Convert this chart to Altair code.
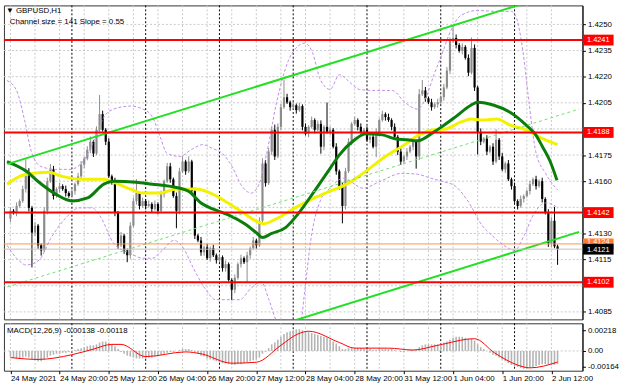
import altair as alt
import pandas as pd

# ---------------- data ----------------
first_open = 1.41385
closes = [
    1.41430, 1.41419, 1.41458, 1.41486, 1.41555, 1.41645, 1.41447, 1.41305, 1.41345, 1.41232,
    1.41203, 1.41430, 1.41600, 1.41668, 1.41515, 1.41555, 1.41572, 1.41555, 1.41532, 1.41515,
    1.41543, 1.41583, 1.41628, 1.41696, 1.41730, 1.41781, 1.41827, 1.41759, 1.41895, 1.41985,
    1.41895, 1.41827, 1.41628, 1.41600, 1.41419, 1.41232, 1.41288, 1.41203, 1.41175, 1.41345,
    1.41486, 1.41532, 1.41458, 1.41486, 1.41458, 1.41469, 1.41441, 1.41469, 1.41430, 1.41526,
    1.41600, 1.41685, 1.41611, 1.41515, 1.41430, 1.41657, 1.41713, 1.41657, 1.41713, 1.41543,
    1.41288, 1.41260, 1.41192, 1.41220, 1.41158, 1.41215, 1.41175, 1.41147, 1.41164, 1.41101,
    1.41124, 1.41033, 1.40977, 1.41045, 1.41124, 1.41158, 1.41135, 1.41175, 1.41215, 1.41260,
    1.41232, 1.41373, 1.41702, 1.41589, 1.41770, 1.41895, 1.41742, 1.41912, 1.42025, 1.42082,
    1.42053, 1.42025, 1.42036, 1.42008, 1.42031, 1.41912, 1.41872, 1.41912, 1.41951, 1.41895,
    1.41929, 1.41798, 1.41912, 1.41883, 1.41895, 1.41798, 1.41657, 1.41572, 1.41458, 1.41657,
    1.41827, 1.41929, 1.41951, 1.41912, 1.41883, 1.41895, 1.41838, 1.41855, 1.41798, 1.41883,
    1.41951, 1.41985, 1.41968, 1.41951, 1.41912, 1.41855, 1.41770, 1.41713, 1.41742, 1.41770,
    1.41798, 1.41827, 1.41742, 1.42099, 1.42121, 1.42076, 1.42053, 1.42025, 1.42042, 1.42053,
    1.42082, 1.42138, 1.42235, 1.42405, 1.42422, 1.42382, 1.42348, 1.42371, 1.42308, 1.42223,
    1.42365, 1.42138, 1.41883, 1.41827, 1.41844, 1.41770, 1.41798, 1.41713, 1.41838, 1.41742,
    1.41668, 1.41702, 1.41611, 1.41572, 1.41486, 1.41458, 1.41498, 1.41515, 1.41543, 1.41583,
    1.41611, 1.41572, 1.41600, 1.41498, 1.41419, 1.41243, 1.41373, 1.41226, 1.41210,
]
upper_wick_pips = [
    2, 1, 2, 1, 2, 8, 3, 1, 2, 1,
    1, 2, 2, 3, 2, 1, 2, 1, 2, 1,
    2, 1, 2, 2, 1, 2, 3, 1, 2, 11,
    2, 1, 2, 1, 2, 1, 2, 1, 1, 2,
    2, 8, 1, 2, 1, 2, 1, 2, 1, 2,
    1, 2, 2, 1, 2, 2, 3, 1, 3, 1,
    2, 1, 2, 1, 2, 1, 2, 1, 2, 1,
    2, 1, 1, 2, 1, 2, 1, 2, 1, 2,
    1, 2, 3, 2, 2, 2, 3, 2, 2, 10,
    2, 1, 2, 1, 2, 1, 2, 1, 2, 1,
    2, 2, 1, 14, 2, 1, 2, 1, 2, 2,
    2, 1, 2, 1, 2, 1, 2, 1, 2, 2,
    1, 2, 1, 2, 1, 2, 1, 2, 1, 2,
    1, 2, 1, 3, 6, 2, 1, 2, 1, 2,
    1, 2, 2, 2, 7, 2, 1, 2, 1, 2,
    6, 2, 1, 2, 1, 2, 1, 2, 6, 1,
    2, 1, 2, 1, 2, 1, 2, 1, 1, 2,
    1, 2, 1, 2, 1, 2, 2, 8, 1,
]
lower_wick_pips = [
    2, 1, 2, 1, 1, 2, 2, 20, 2, 2,
    3, 1, 2, 1, 2, 1, 2, 1, 2, 1,
    1, 2, 1, 2, 2, 1, 2, 2, 1, 2,
    1, 2, 1, 2, 2, 2, 1, 2, 4, 2,
    1, 2, 2, 1, 2, 1, 2, 1, 2, 1,
    2, 1, 2, 1, 10, 2, 1, 2, 1, 2,
    2, 1, 2, 2, 1, 2, 1, 2, 1, 2,
    2, 1, 6, 2, 1, 2, 1, 12, 2, 1,
    2, 1, 2, 2, 1, 2, 2, 1, 2, 1,
    1, 2, 1, 2, 1, 2, 1, 2, 1, 2,
    1, 4, 2, 1, 2, 1, 2, 2, 10, 2,
    1, 2, 1, 2, 1, 2, 1, 2, 1, 6,
    2, 1, 2, 1, 2, 1, 2, 2, 1, 2,
    1, 2, 7, 2, 1, 2, 1, 2, 1, 2,
    1, 2, 1, 2, 1, 2, 1, 2, 1, 2,
    1, 2, 13, 2, 1, 2, 1, 2, 1, 2,
    1, 2, 1, 2, 1, 2, 1, 2, 1, 2,
    1, 2, 1, 2, 1, 2, 2, 1, 9,
]

ma_green_bar = [-1.1, 5.2, 9.3, 14.7, 20.0, 25.1, 30.4, 33.6, 40.9, 46.2, 51.6, 57.9, 62.0, 65.8,
                70.9, 76.2, 80.3, 81.9, 85.0, 89.5, 93.6, 98.9, 104.0, 107.1, 111.6, 115.7, 121.0,
                125.1, 129.2, 132.4, 137.8, 140.3, 144.7, 149.8, 152.0, 157.3, 162.4, 167.7, 170.9,
                173.1, 175.6, 177.8]
ma_green_val = [1.41713, 1.41657, 1.41594, 1.41526, 1.41487, 1.41504, 1.41583, 1.41600, 1.41594,
                1.41583, 1.41572, 1.41543, 1.41475, 1.41441, 1.41407, 1.41356, 1.41300, 1.41277,
                1.41300, 1.41334, 1.41413, 1.41543, 1.41674, 1.41753, 1.41832, 1.41872, 1.41866,
                1.41844, 1.41838, 1.41832, 1.41883, 1.41912, 1.41968, 1.42036, 1.42053, 1.42036,
                1.41997, 1.41923, 1.41866, 1.41798, 1.41713, 1.41606]
ma_yellow_bar = [-1.1, 3.0, 7.4, 12.4, 16.9, 23.2, 30.4, 33.6, 39.0, 43.1, 48.4, 54.1, 60.4, 65.8,
                 70.8, 76.2, 80.3, 82.5, 86.6, 92.0, 98.9, 104.0, 109.4, 114.7, 122.0, 128.3, 132.4,
                 137.8, 141.6, 146.6, 149.8, 153.5, 158.3, 162.4, 167.7, 173.1, 178.0]
ma_yellow_val = [1.41583, 1.41628, 1.41645, 1.41651, 1.41628, 1.41611, 1.41611, 1.41594, 1.41555,
                 1.41532, 1.41532, 1.41555, 1.41555, 1.41526, 1.41475, 1.41413, 1.41368, 1.41356,
                 1.41385, 1.41441, 1.41504, 1.41543, 1.41583, 1.41645, 1.41742, 1.41810, 1.41861,
                 1.41895, 1.41900, 1.41940, 1.41957, 1.41951, 1.41957, 1.41923, 1.41895, 1.41844,
                 1.41810]
bb_upper_bar = [-1.1, 2.0, 4.6, 6.8, 9.9, 14.7, 19.4, 24.1, 27.3, 30.4, 33.6, 39.0, 43.1, 46.2,
                48.7, 51.0, 55.1, 58.8, 62.6, 65.8, 69.0, 72.1, 75.3, 78.4, 81.0, 83.5, 86.6, 90.4,
                93.6, 95.8, 98.3, 100.8, 104.0, 107.1, 109.4, 113.5, 117.9, 124.2, 128.3, 132.4,
                135.2, 137.8, 140.3, 142.5, 146.6, 152.0, 158.3, 163.0, 164.3, 166.8, 168.7, 170.9,
                174.1, 177.2, 178.0]
bb_upper_val = [1.42178, 1.42121, 1.41951, 1.41770, 1.41685, 1.41668, 1.41668, 1.41725, 1.41838,
                1.41968, 1.42014, 1.42031, 1.42014, 1.41968, 1.41855, 1.41759, 1.41742, 1.41781,
                1.41810, 1.41787, 1.41759, 1.41685, 1.41572, 1.41532, 1.41589, 1.41770, 1.42053,
                1.42291, 1.42376, 1.42393, 1.42337, 1.42184, 1.42127, 1.42212, 1.42184, 1.42127,
                1.42121, 1.42121, 1.42053, 1.42014, 1.42082, 1.42212, 1.42325, 1.42433, 1.42552,
                1.42580, 1.42575, 1.42575, 1.42552, 1.42337, 1.42053, 1.41770, 1.41645, 1.41566,
                1.41550]
bb_lower_bar = [-1.1, 2.0, 5.2, 9.3, 13.1, 17.8, 22.5, 26.6, 29.5, 33.6, 39.0, 43.1, 46.2, 49.4,
                53.2, 56.3, 59.5, 63.6, 66.7, 69.9, 74.6, 78.4, 81.6, 84.1, 86.6, 93.6, 95.8, 97.7,
                100.8, 104.0, 108.4, 114.7, 120.4, 127.3, 132.4, 136.8, 140.3, 144.7, 148.8, 153.5,
                156.7, 160.5, 164.0, 167.1, 170.3, 174.1, 177.2, 178.0]
bb_lower_val = [1.41232, 1.41158, 1.41119, 1.41147, 1.41271, 1.41385, 1.41447, 1.41447, 1.41390,
                1.41243, 1.41186, 1.41158, 1.41158, 1.41203, 1.41260, 1.41215, 1.41101, 1.40977,
                1.40920, 1.40920, 1.40920, 1.40988, 1.41022, 1.40920, 1.40796, 1.40694, 1.40977,
                1.41260, 1.41487, 1.41560, 1.41617, 1.41560, 1.41600, 1.41645, 1.41640, 1.41617,
                1.41600, 1.41572, 1.41487, 1.41345, 1.41288, 1.41232, 1.41203, 1.41288, 1.41413,
                1.41475, 1.41458, 1.41440]

channel_bar = [-1, 185]
channel_upper = [1.41698, 1.42719]
channel_middle = [1.40993, 1.42014]
channel_lower = [1.40288, 1.41309]

red_levels = [1.4241, 1.4188, 1.4142, 1.4102]
orange_level = [1.4124]
bid_level = [1.4121]
price_ticks = [1.4085, 1.4115, 1.4130, 1.4160, 1.4175, 1.4205, 1.4220, 1.4235, 1.4250]
grid_levels = [1.4085, 1.4100, 1.4115, 1.4130, 1.4145, 1.4160, 1.4175, 1.4190, 1.4205, 1.4220,
               1.4235, 1.4250]

macd_main = [
    -0.0006, -0.0007, -0.0008, -0.0008, -0.0007, -0.0006, -0.0007, -0.0009, -0.0010, -0.0011,
    -0.0011, -0.0009, -0.0007, -0.0005, -0.0004, -0.0003, -0.0003, -0.0002, -0.0002, -0.0001,
    0.0000, 0.0001, 0.0002, 0.0003, 0.0004, 0.0005, 0.0006, 0.0006, 0.0007, 0.0009,
    0.0010, 0.0010, 0.0009, 0.0007, 0.0005, 0.0002, -0.0001, -0.0003, -0.0005, -0.0006,
    -0.0007, -0.0008, -0.0008, -0.0008, -0.0008, -0.0007, -0.0007, -0.0006, -0.0005, -0.0004,
    -0.0003, -0.0002, -0.0001, -0.0001, 0.0000, 0.0001, 0.0002, 0.0002, 0.0002, 0.0001,
    -0.0001, -0.0003, -0.0005, -0.0006, -0.0008, -0.0009, -0.0010, -0.0011, -0.0012, -0.0013,
    -0.0013, -0.0014, -0.0015, -0.0015, -0.0014, -0.0014, -0.0013, -0.0012, -0.0011, -0.0010,
    -0.0009, -0.0007, -0.0003, -0.0001, 0.0003, 0.0007, 0.0009, 0.0012, 0.0015, 0.0018,
    0.0020, 0.0021, 0.0022, 0.0023, 0.0023, 0.0022, 0.0021, 0.0020, 0.0019, 0.0018,
    0.0017, 0.0016, 0.0015, 0.0014, 0.0012, 0.0010, 0.0008, 0.0005, 0.0002, 0.0002,
    0.0003, 0.0003, 0.0003, 0.0003, 0.0003, 0.0002, 0.0002, 0.0002, 0.0001, 0.0001,
    0.0002, 0.0002, 0.0002, 0.0002, 0.0002, 0.0001, 0.0000, -0.0001, -0.0001, 0.0000,
    0.0001, 0.0001, 0.0001, 0.0004, 0.0006, 0.0007, 0.0007, 0.0007, 0.0007, 0.0007,
    0.0008, 0.0009, 0.0010, 0.0012, 0.0014, 0.0015, 0.0015, 0.0015, 0.0014, 0.0013,
    0.0013, 0.0011, 0.0007, 0.0004, 0.0002, 0.0000, -0.0002, -0.0004, -0.0005, -0.0007,
    -0.0009, -0.0011, -0.0013, -0.0015, -0.0016, -0.0017, -0.0018, -0.0019, -0.0019, -0.0018,
    -0.0017, -0.0016, -0.0015, -0.0014, -0.0014, -0.0014, -0.0015, -0.0015, -0.00138,
]
signal_bar = [0, 9, 20, 27, 33, 36, 44, 57, 62, 72, 80, 88, 93.5, 97, 107, 112, 123, 131, 139,
              151, 157.5, 165, 169, 178]
signal_val = [-0.0007, -0.0009, -0.0004, 0.0002, 0.0007, 0.0007, -0.0006, -0.0001, -0.0003,
              -0.0013, -0.0012, 0.0006, 0.0018, 0.0021, 0.0009, 0.0003, 0.0003, 0.0001, 0.0006,
              0.0013, -0.0002, -0.0015, -0.0018, -0.00118]
macd_ticks = [0.00218, 0.0, -0.00164]

time_label_bars = [0, 16, 32, 48, 64, 80, 96, 112, 128, 144, 160, 176]
time_labels = ["24 May 2021", "24 May 20:00", "25 May 12:00", "26 May 04:00", "26 May 20:00",
               "27 May 12:00", "28 May 04:00", "28 May 20:00", "31 May 12:00", "1 Jun 04:00",
               "1 Jun 20:00", "2 Jun 12:00"]
grid_bars = [0, 8, 16, 24, 32, 40, 48, 56, 64, 72, 80, 88, 96, 104, 112, 120, 128, 136, 144,
             152, 160, 168, 176]
day_separator_bars = [20, 44, 68, 92, 116, 140, 164]

# ---------------- tables ----------------
n = len(closes)
opens = [first_open] + closes[:-1]
highs = [max(o, c) + w / 10000 for o, c, w in zip(opens, closes, upper_wick_pips)]
lows = [min(o, c) - w / 10000 for o, c, w in zip(opens, closes, lower_wick_pips)]
bars = pd.DataFrame({
    "i": list(range(n)), "open": opens, "close": closes, "high": highs, "low": lows,
    "dir": ["up" if c >= o else "down" for o, c in zip(opens, closes)],
})

FONT = "Liberation Sans"
W, H_MAIN, H_MACD = 586, 318, 48

xscale = alt.Scale(domain=[-0.5, 184.5], nice=False, zero=False)
pscale = alt.Scale(domain=[1.40807, 1.42609], nice=False, zero=False)
mscale = alt.Scale(domain=[-0.0021, 0.00294], nice=False, zero=False)

yaxis = alt.Axis(orient="right", values=price_ticks, format=".4f", title=None, grid=False,
                 labelFont=FONT, labelFontSize=8, labelColor="#000000", tickSize=3,
                 tickColor="#000000", labelPadding=2, domainColor="#000000")
macd_axis = alt.Axis(orient="right", values=macd_ticks, title=None, grid=False,
                     labelExpr="datum.value > 0.001 ? '0.00218' : (datum.value < -0.001 ? '-0.00164' : '0.00')",
                     labelFont=FONT, labelFontSize=8, labelColor="#000000", tickSize=3,
                     tickColor="#000000", labelPadding=2, domainColor="#000000")
expr = "".join(f"datum.value == {b} ? '{t}' : " for b, t in zip(time_label_bars, time_labels)) + "''"
xaxis = alt.Axis(values=time_label_bars, labelExpr=expr, title=None, grid=False, domain=False,
                 labelAlign="left", labelFont=FONT, labelFontSize=8, labelColor="#000000",
                 tickSize=3, tickColor="#000000", labelPadding=1, labelOverlap=False,
                 labelFlush=False, labelBound=False)


def X(field="i", axis=None):
    return alt.X(f"{field}:Q", scale=xscale, axis=axis)


def P(field):
    return alt.Y(f"{field}:Q", scale=pscale, axis=yaxis)


def line_df(b, v):
    return pd.DataFrame({"i": b, "v": v})


# ---------------- main panel ----------------
hgrid = alt.Chart(pd.DataFrame({"v": grid_levels})).mark_rule(
    color="#C8C8C8", strokeDash=[2, 2], strokeWidth=1).encode(y=P("v"))
vgrid = alt.Chart(pd.DataFrame({"i": grid_bars})).mark_rule(
    color="#C8C8C8", strokeDash=[2, 2], strokeWidth=1).encode(x=X())
seps = alt.Chart(pd.DataFrame({"i": day_separator_bars})).mark_rule(
    color="#000000", strokeDash=[2, 2], strokeWidth=1).encode(x=X())

col_scale = alt.Scale(domain=["up", "down"], range=["#8C8C8C", "#000000"])
wicks = alt.Chart(bars).mark_rule(strokeWidth=1).encode(
    x=X(), y=P("low"), y2="high:Q", color=alt.Color("dir:N", scale=col_scale, legend=None))
bodies = alt.Chart(bars).mark_bar(size=2.2).encode(
    x=X(), y=P("open"), y2="close:Q",
    color=alt.Color("dir:N", scale=alt.Scale(domain=["up", "down"], range=["#A8A8A8", "#000000"]),
                    legend=None))

bb_up = alt.Chart(line_df(bb_upper_bar, bb_upper_val)).mark_line(
    color="#C08CE8", strokeDash=[3, 2], strokeWidth=1, interpolate="monotone", clip=True
).encode(x=X(), y=P("v"))
bb_lo = alt.Chart(line_df(bb_lower_bar, bb_lower_val)).mark_line(
    color="#C08CE8", strokeDash=[3, 2], strokeWidth=1, interpolate="monotone", clip=True
).encode(x=X(), y=P("v"))

ma_y = alt.Chart(line_df(ma_yellow_bar, ma_yellow_val)).mark_line(
    color="#F2F200", strokeWidth=3, interpolate="monotone", clip=True).encode(x=X(), y=P("v"))
ma_g = alt.Chart(line_df(ma_green_bar, ma_green_val)).mark_line(
    color="#0A7D0A", strokeWidth=3, interpolate="monotone", clip=True).encode(x=X(), y=P("v"))

ch_up = alt.Chart(line_df(channel_bar, channel_upper)).mark_line(
    color="#22E022", strokeWidth=2, clip=True).encode(x=X(), y=P("v"))
ch_lo = alt.Chart(line_df(channel_bar, channel_lower)).mark_line(
    color="#22E022", strokeWidth=2, clip=True).encode(x=X(), y=P("v"))
ch_mid = alt.Chart(line_df(channel_bar, channel_middle)).mark_line(
    color="#6EE06E", strokeWidth=1, strokeDash=[3, 3], clip=True).encode(x=X(), y=P("v"))

red_lines = alt.Chart(pd.DataFrame({"v": red_levels})).mark_rule(
    color="#FF0000", strokeWidth=2).encode(y=P("v"))
orange_line = alt.Chart(pd.DataFrame({"v": orange_level})).mark_rule(
    color="#FF9050", strokeWidth=1).encode(y=P("v"))
bid_line = alt.Chart(pd.DataFrame({"v": bid_level})).mark_rule(
    color="#C0C0C0", strokeWidth=1).encode(y=P("v"))


def box_layer(levels, fill, dy):
    df = pd.DataFrame({"v": levels, "t": [f"{v:.4f}" for v in levels]})
    box = alt.Chart(df).mark_tick(orient="horizontal", size=31, thickness=11, color=fill,
                                  opacity=1).encode(x=alt.value(602), y=P("v"))
    txt = alt.Chart(df).mark_text(color="#FFFFFF", font=FONT, fontSize=7.5, align="center",
                                  baseline="middle", dy=dy).encode(
        x=alt.value(602), y=P("v"), text="t:N")
    return box, txt


red_box, red_txt = box_layer(red_levels, "#FF0000", 0)
or_box, or_txt = box_layer(orange_level, "#FF7A30", -2)
bid_box, bid_txt = box_layer(bid_level, "#000000", 1)

title1 = alt.Chart(pd.DataFrame({"t": ["\u25BC GBPUSD,H1"]})).mark_text(
    font=FONT, fontSize=8, align="left", baseline="middle", color="#000000").encode(
    x=alt.value(2), y=alt.value(6), text="t:N")
title2 = alt.Chart(pd.DataFrame({"t": ["Channel size = 141 Slope = 0.55"]})).mark_text(
    font=FONT, fontSize=8, align="left", baseline="middle", color="#000000").encode(
    x=alt.value(6), y=alt.value(17), text="t:N")

main = alt.layer(
    hgrid, vgrid, seps, wicks, bodies, bb_up, bb_lo, ma_y, ma_g, ch_mid, ch_up, ch_lo,
    red_lines, orange_line, bid_line, red_box, red_txt, or_box, or_txt, bid_box, bid_txt,
    title1, title2
).properties(width=W, height=H_MAIN)

# ---------------- MACD panel ----------------
macd_df = pd.DataFrame({"i": list(range(n)), "m": macd_main})
vgrid2 = alt.Chart(pd.DataFrame({"i": grid_bars})).mark_rule(
    color="#C8C8C8", strokeDash=[2, 2], strokeWidth=1).encode(x=alt.X("i:Q", scale=xscale, axis=xaxis))
seps2 = alt.Chart(pd.DataFrame({"i": day_separator_bars})).mark_rule(
    color="#000000", strokeDash=[2, 2], strokeWidth=1).encode(x=alt.X("i:Q", scale=xscale, axis=xaxis))
zero_grid = alt.Chart(pd.DataFrame({"m": [0.0]})).mark_rule(
    color="#C8C8C8", strokeDash=[2, 2]).encode(y=alt.Y("m:Q", scale=mscale, axis=macd_axis))
hist = alt.Chart(macd_df).mark_bar(size=1.6, color="#B4B4B4").encode(
    x=alt.X("i:Q", scale=xscale, axis=xaxis),
    y=alt.Y("m:Q", scale=mscale, axis=macd_axis), y2=alt.datum(0))
sig = alt.Chart(line_df(signal_bar, signal_val)).mark_line(
    color="#FF0000", strokeWidth=1, interpolate="monotone").encode(
    x=alt.X("i:Q", scale=xscale, axis=xaxis), y=alt.Y("v:Q", scale=mscale, axis=macd_axis))
macd_text = alt.Chart(pd.DataFrame({"t": ["MACD(12,26,9) -0.00138 -0.00118"]})).mark_text(
    font=FONT, fontSize=8, align="left", baseline="middle", color="#000000").encode(
    x=alt.value(3), y=alt.value(8), text="t:N")

macd = alt.layer(vgrid2, seps2, zero_grid, hist, sig, macd_text).properties(width=W, height=H_MACD)

chart = alt.vconcat(main, macd, spacing=2).properties(
    padding={"left": 2, "top": 2, "right": 0, "bottom": 0}, background="#FFFFFF"
).configure_view(stroke="#333333", strokeWidth=1).configure_concat(spacing=2)

chart.save("out.html", embed_options={"renderer": "svg", "actions": False})
